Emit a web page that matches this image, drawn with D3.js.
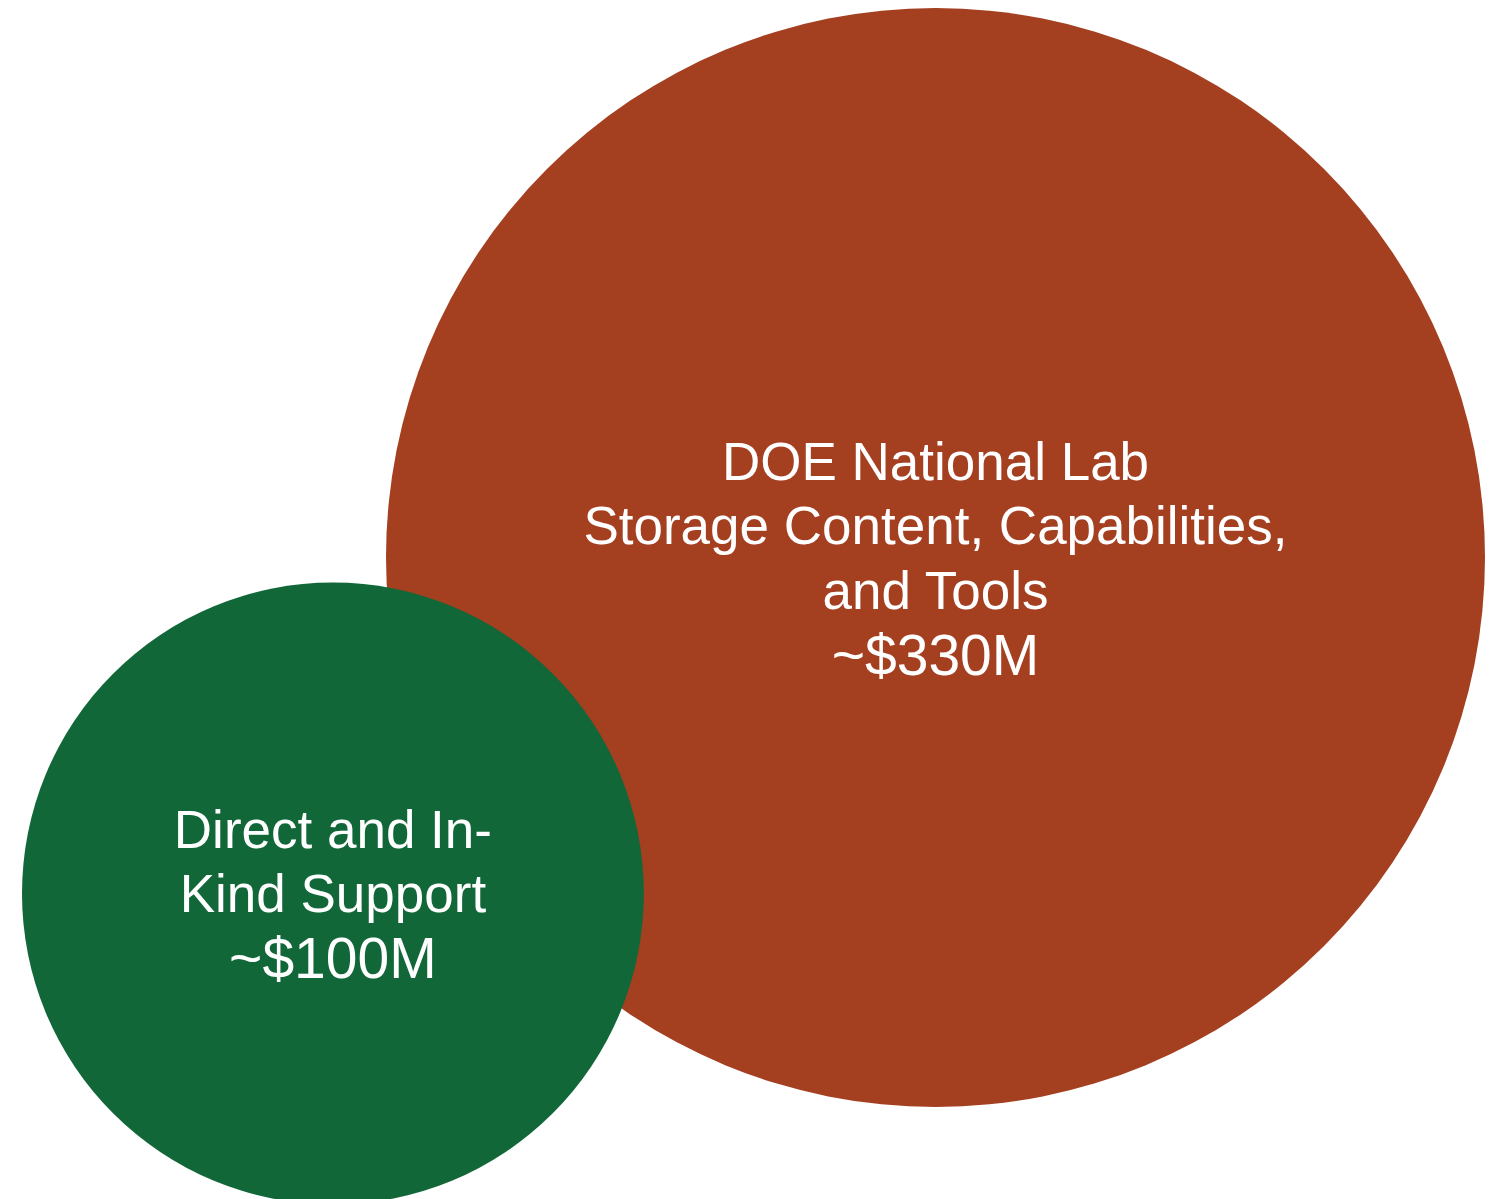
<!DOCTYPE html>
<html>
<head>
<meta charset="utf-8">
<script src="https://cdn.jsdelivr.net/npm/d3@7"></script>
<style>
  html, body { margin: 0; padding: 0; background: #ffffff; }
  svg { display: block; }
</style>
</head>
<body>
<svg id="chart" width="1503" height="1199"></svg>
<script>
// ---- data ----
const categories = ["DOE National Lab Storage Content, Capabilities, and Tools", "Direct and In-Kind Support"];
const values = [330, 100]; // $M
const labelLines = [
  ["DOE National Lab", "Storage Content, Capabilities,", "and Tools"],
  ["Direct and In-", "Kind Support"]
];
const valueLabels = ["~$330M", "~$100M"];
const colors = ["#A43F20", "#116738"];

// ---- layout ----
const W = 1503, H = 1199;
const svg = d3.select("#chart");

const rScale = d3.scalePow().exponent(0.477)
  .domain([0, d3.max(values)])
  .range([0, 549.5]);

const rBig = rScale(values[0]);
const rSmall = rScale(values[1]);

const bigCx = W - 18 - rBig;
const bigCy = 8 + rBig;
const smallCx = 22 + rSmall;
const smallCy = bigCy + 336;

const nodes = [
  { cat: categories[0], v: values[0], lines: labelLines[0], val: valueLabels[0], color: colors[0], x: bigCx, y: bigCy, r: rBig },
  { cat: categories[1], v: values[1], lines: labelLines[1], val: valueLabels[1], color: colors[1], x: smallCx, y: smallCy, r: rSmall }
];

const fontSize = 53;
const valueFontSize = 57;
const lineH = 64.5;
const capH = 0.716 * fontSize;

const g = svg.selectAll("g.bubble")
  .data(nodes)
  .join("g")
  .attr("class", "bubble");

g.append("circle")
  .attr("cx", d => d.x)
  .attr("cy", d => d.y)
  .attr("r", d => d.r)
  .attr("fill", d => d.color);

g.append("text")
  .attr("text-anchor", "middle")
  .attr("fill", "#ffffff")
  .attr("font-family", "'Liberation Sans', Arial, sans-serif")
  .attr("font-size", fontSize)
  .each(function(d) {
    const t = d3.select(this);
    const all = d.lines.concat([d.val]);
    const n = all.length;
    const y0 = d.y - (n - 1) / 2 * lineH + capH / 2;
    all.forEach((line, i) => {
      const isVal = i === n - 1;
      t.append("tspan")
        .attr("x", d.x)
        .attr("y", y0 + i * lineH + (isVal ? 1.5 : 0))
        .attr("font-size", isVal ? valueFontSize : fontSize)
        .text(line);
    });
  });
</script>
</body>
</html>
